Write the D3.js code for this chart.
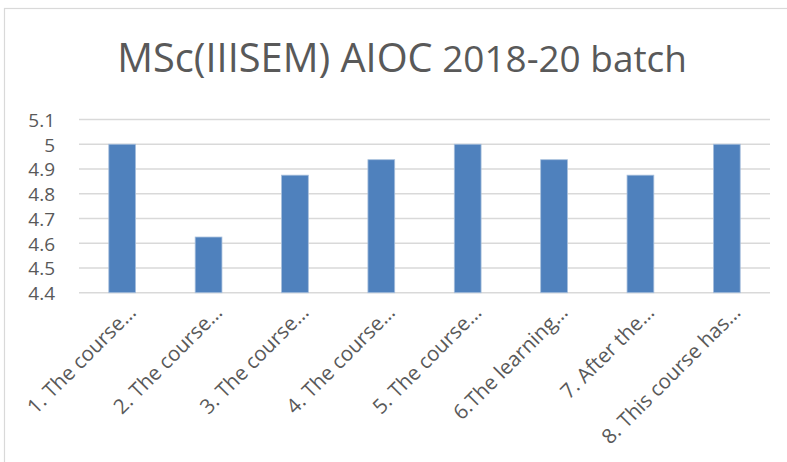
<!DOCTYPE html>
<html>
<head>
<meta charset="utf-8">
<script src="https://cdn.jsdelivr.net/npm/d3@7"></script>
<style>
  html, body { margin: 0; padding: 0; background: #fff; }
  svg { display: block; }
  text { font-family: "Open Sans", "Noto Sans", sans-serif; }
</style>
</head>
<body>
<svg id="chart" width="787" height="462"></svg>
<script>
// Feedback categories (truncated questions) and mean scores
const categories = [
  "1. The course\u2026",
  "2. The course\u2026",
  "3. The course\u2026",
  "4. The course\u2026",
  "5. The course\u2026",
  "6.The learning\u2026",
  "7. After the\u2026",
  "8. This course has\u2026"
];
const scores = [5, 4.625, 4.875, 4.9375, 5, 4.9375, 4.875, 5];
const yTicks = [4.4, 4.5, 4.6, 4.7, 4.8, 4.9, 5, 5.1];
const titleMain = "MSc(IIISEM) AIOC";
const titleSub = "2018-20 batch";

const svg = d3.select("#chart");
const plot = { left: 79, right: 770, top: 119.5, bottom: 292.7 };

// chart frame
svg.append("rect")
  .attr("x", 4.5).attr("y", 8.5)
  .attr("width", 800).attr("height", 470)
  .attr("fill", "#fff").attr("stroke", "#d9d9d9").attr("stroke-width", 1.2);

const x = d3.scaleBand()
  .domain(categories)
  .range([plot.left, plot.right])
  .paddingInner(0.69).paddingOuter(0.345);

const y = d3.scaleLinear()
  .domain([4.4, 5.1])
  .range([plot.bottom, plot.top]);

// gridlines
svg.append("g")
  .selectAll("line")
  .data(yTicks)
  .join("line")
  .attr("x1", plot.left).attr("x2", plot.right)
  .attr("y1", d => y(d)).attr("y2", d => y(d))
  .attr("stroke", "#d9d9d9").attr("stroke-width", 1.5);

// y axis labels
const yAxis = d3.axisLeft(y)
  .tickValues(yTicks)
  .tickFormat(d => d3.format("")(+d.toFixed(1)))
  .tickSize(0).tickPadding(0);
const yg = svg.append("g").attr("transform", `translate(55,0)`).call(yAxis);
yg.select(".domain").remove();
yg.selectAll("text")
  .attr("fill", "#595959")
  .style("font-size", "19px")
  .attr("dy", "0.36em");

// bars
svg.append("g")
  .selectAll("rect")
  .data(categories)
  .join("rect")
  .attr("x", d => x(d))
  .attr("width", x.bandwidth())
  .attr("y", (d, i) => y(scores[i]))
  .attr("height", (d, i) => y(4.4) - y(scores[i]))
  .attr("fill", "#4f81bd")
  .attr("stroke", "#a7bfdc").attr("stroke-width", 0.8);

// rotated category labels
const xAxis = d3.axisBottom(x).tickSize(0).tickPadding(0);
const xg = svg.append("g").attr("transform", `translate(0,${plot.bottom})`).call(xAxis);
xg.select(".domain").remove();
xg.selectAll(".tick text")
  .attr("fill", "#595959")
  .style("font-size", "20.5px")
  .attr("text-anchor", "end")
  .attr("dy", null)
  .attr("y", 0)
  .attr("transform", "translate(15,21) rotate(-45)");

// title, fitted to its span
const title = svg.append("text")
  .attr("x", 0).attr("y", 72)
  .attr("fill", "#595959");
const t1 = title.append("tspan").text(titleMain).style("font-size", "35px");
const t2 = title.append("tspan").text(" " + titleSub).style("font-size", "32.5px");
const w = title.node().getComputedTextLength();
const target = 570;
const k = target / w;
t1.style("font-size", (35 * k) + "px");
t2.style("font-size", (32.5 * k) + "px");
const w2 = title.node().getComputedTextLength();
title.attr("x", 117 + (target - w2) / 2);
</script>
</body>
</html>
